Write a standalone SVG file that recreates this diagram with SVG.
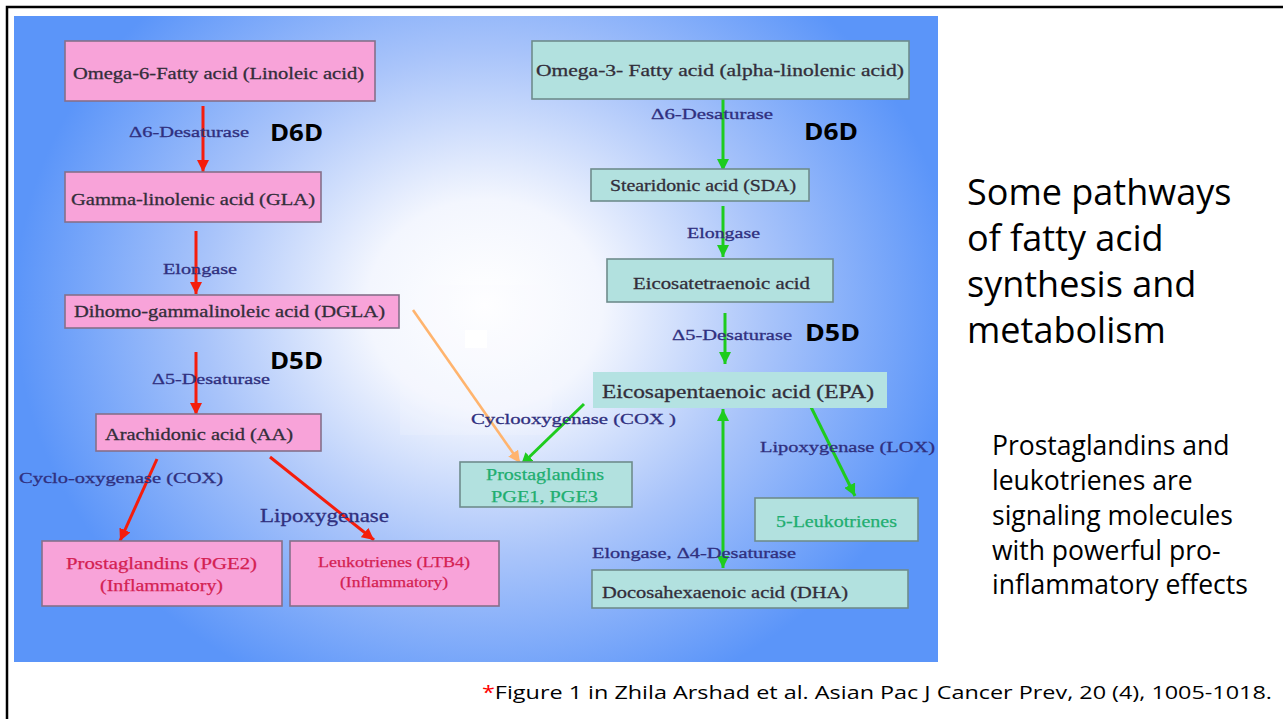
<svg xmlns="http://www.w3.org/2000/svg" width="1283" height="719" viewBox="0 0 1283 719">
<style>
.pink{fill:#f8a3d9;stroke:#85708a;stroke-width:1.6}
.teal{fill:#b2e1df;stroke:#6e8c8c;stroke-width:1.6}
.t{font-family:"Liberation Serif","Times New Roman",serif;font-size:17px;fill:#332e3a;stroke:#332e3a;stroke-width:0.3}
.enz{font-family:"Liberation Serif","Times New Roman",serif;font-size:15px;fill:#30307f;stroke:#30307f;stroke-width:0.3}
.grn{font-family:"Liberation Serif","Times New Roman",serif;font-size:16px;fill:#1fae70;stroke:#1fae70;stroke-width:0.25}
.red{font-family:"Liberation Serif","Times New Roman",serif;font-size:16px;fill:#d42152;stroke:#d42152;stroke-width:0.25}
.bold{font-family:"Open Sans","Noto Sans",sans-serif;font-weight:bold;font-size:24px;fill:#000}
.side{font-family:"Open Sans","Noto Sans",sans-serif;fill:#000}
.ar{stroke:#f51d0c;stroke-width:3;fill:none;marker-end:url(#mr)}
.ag{stroke:#1ecc1e;stroke-width:3;fill:none;marker-end:url(#mg)}
.ao{stroke:#ffb46e;stroke-width:2.6;fill:none;marker-end:url(#mo)}
</style>
<defs>
<radialGradient id="bg" gradientUnits="userSpaceOnUse" cx="0" cy="0" r="1" gradientTransform="translate(485 305) scale(470 420)">
<stop offset="0" stop-color="#ffffff"/>
<stop offset="0.25" stop-color="#f3f6fe"/>
<stop offset="0.6" stop-color="#a9c4fa"/>
<stop offset="1" stop-color="#5b95f9"/>
</radialGradient>
<marker id="mr" markerUnits="userSpaceOnUse" markerWidth="12" markerHeight="12" refX="10" refY="5" orient="auto" viewBox="0 0 10 10"><path d="M0,0 L10,5 L0,10 z" fill="#f51d0c"/></marker>
<marker id="mg" markerUnits="userSpaceOnUse" markerWidth="12" markerHeight="12" refX="10" refY="5" orient="auto-start-reverse" viewBox="0 0 10 10"><path d="M0,0 L10,5 L0,10 z" fill="#1ecc1e"/></marker>
<marker id="mo" markerUnits="userSpaceOnUse" markerWidth="12" markerHeight="12" refX="10" refY="5" orient="auto" viewBox="0 0 10 10"><path d="M0,0 L10,5 L0,10 z" fill="#ffb46e"/></marker>
</defs>
<rect width="1283" height="719" fill="#fff"/>
<path d="M7,719 V7 H1283" fill="none" stroke="#000" stroke-width="2.5"/>
<rect x="14" y="16" width="924" height="646" fill="url(#bg)"/>
<rect x="400" y="285" width="152" height="150" fill="#fafbff" opacity="0.18"/>
<rect x="465" y="330" width="22" height="18" fill="#ffffff"/>

<g id="connectors">
<line class="ar" x1="203" y1="106" x2="203" y2="172"/>
<line class="ar" x1="196" y1="231" x2="196" y2="294"/>
<line class="ar" x1="196" y1="352" x2="196" y2="415"/>
<line class="ar" x1="157" y1="459" x2="120" y2="541"/>
<line class="ar" x1="270" y1="457" x2="374" y2="540"/>
<line class="ag" x1="723" y1="99" x2="723" y2="171"/>
<line class="ag" x1="723" y1="206" x2="723" y2="257"/>
<line class="ag" x1="725" y1="313" x2="725" y2="364"/>
<line class="ag" x1="723" y1="409" x2="723" y2="568" style="marker-start:url(#mg)"/>
<line class="ao" x1="413" y1="310" x2="520" y2="463"/>
<line class="ag" x1="584" y1="404" x2="521" y2="465"/>
<line class="ag" x1="810" y1="405" x2="855" y2="496"/>
</g>

<g id="n-omega6"><rect class="pink" x="65" y="41" width="310" height="60"/><text class="t" x="73" y="79" textLength="291" lengthAdjust="spacingAndGlyphs">Omega-6-Fatty  acid (Linoleic acid)</text></g>
<g id="n-gla"><rect class="pink" x="65" y="172" width="256" height="50"/><text class="t" x="71" y="205" textLength="244" lengthAdjust="spacingAndGlyphs">Gamma-linolenic  acid (GLA)</text></g>
<g id="n-dgla"><rect class="pink" x="65" y="295" width="334" height="33"/><text class="t" x="74" y="317" textLength="311" lengthAdjust="spacingAndGlyphs">Dihomo-gammalinoleic  acid (DGLA)</text></g>
<g id="n-aa"><rect class="pink" x="96" y="414" width="225" height="37"/><text class="t" x="105" y="440" textLength="188" lengthAdjust="spacingAndGlyphs">Arachidonic  acid (AA)</text></g>
<g id="n-pge2"><rect class="pink" x="42" y="541" width="240" height="65"/><text class="red" x="66" y="569" textLength="191" lengthAdjust="spacingAndGlyphs">Prostaglandins  (PGE2)</text><text class="red" x="100" y="591" textLength="123" lengthAdjust="spacingAndGlyphs">(Inflammatory)</text></g>
<g id="n-ltb4"><rect class="pink" x="290" y="541" width="209" height="65"/><text class="red" x="318" y="567" textLength="152" lengthAdjust="spacingAndGlyphs" style="font-size:15px">Leukotrienes (LTB4)</text><text class="red" x="340" y="587" textLength="108" lengthAdjust="spacingAndGlyphs" style="font-size:15px">(Inflammatory)</text></g>

<g id="n-omega3"><rect class="teal" x="532" y="41" width="377" height="58"/><text class="t" x="536" y="76" textLength="368" lengthAdjust="spacingAndGlyphs">Omega-3- Fatty acid (alpha-linolenic  acid)</text></g>
<g id="n-sda"><rect class="teal" x="591" y="169" width="218" height="32"/><text class="t" x="610" y="191" textLength="186" lengthAdjust="spacingAndGlyphs">Stearidonic  acid (SDA)</text></g>
<g id="n-eta"><rect class="teal" x="607" y="259" width="226" height="43"/><text class="t" x="633" y="289" textLength="177" lengthAdjust="spacingAndGlyphs">Eicosatetraenoic  acid</text></g>
<g id="n-epa"><rect x="593" y="372" width="294" height="36" fill="#b4e2e2"/><text class="t" x="602" y="398" textLength="272" lengthAdjust="spacingAndGlyphs" style="font-size:19px">Eicosapentaenoic acid (EPA)</text></g>
<g id="n-pge13"><rect class="teal" x="460" y="462" width="172" height="45"/><text class="grn" x="486" y="480" textLength="118" lengthAdjust="spacingAndGlyphs">Prostaglandins</text><text class="grn" x="491" y="502" textLength="107" lengthAdjust="spacingAndGlyphs">PGE1, PGE3</text></g>
<g id="n-5lt"><rect class="teal" x="755" y="498" width="163" height="43"/><text class="grn" x="776" y="527" textLength="121" lengthAdjust="spacingAndGlyphs">5-Leukotrienes</text></g>
<g id="n-dha"><rect class="teal" x="592" y="570" width="316" height="38"/><text class="t" x="602" y="598" textLength="246" lengthAdjust="spacingAndGlyphs">Docosahexaenoic  acid (DHA)</text></g>

<g id="enzyme-labels">
<text class="enz" x="129" y="137" textLength="120" lengthAdjust="spacingAndGlyphs">Δ6-Desaturase</text>
<text class="enz" x="163" y="274" textLength="74" lengthAdjust="spacingAndGlyphs">Elongase</text>
<text class="enz" x="152" y="384" textLength="118" lengthAdjust="spacingAndGlyphs">Δ5-Desaturase</text>
<text class="enz" x="19" y="483" textLength="204" lengthAdjust="spacingAndGlyphs">Cyclo-oxygenase  (COX)</text>
<text class="enz" x="260" y="522" textLength="129" lengthAdjust="spacingAndGlyphs" style="font-size:19px">Lipoxygenase</text>
<text class="enz" x="651" y="119" textLength="122" lengthAdjust="spacingAndGlyphs">Δ6-Desaturase</text>
<text class="enz" x="687" y="238" textLength="73" lengthAdjust="spacingAndGlyphs">Elongase</text>
<text class="enz" x="672" y="340" textLength="120" lengthAdjust="spacingAndGlyphs">Δ5-Desaturase</text>
<text class="enz" x="471" y="424" textLength="205" lengthAdjust="spacingAndGlyphs">Cyclooxygenase  (COX )</text>
<text class="enz" x="760" y="452" textLength="175" lengthAdjust="spacingAndGlyphs">Lipoxygenase  (LOX)</text>
<text class="enz" x="592" y="558" textLength="204" lengthAdjust="spacingAndGlyphs">Elongase, Δ4-Desaturase</text>
</g>

<g id="abbrev-labels">
<text class="bold" x="270" y="141" textLength="53" lengthAdjust="spacingAndGlyphs">D6D</text>
<text class="bold" x="804" y="140" textLength="54" lengthAdjust="spacingAndGlyphs">D6D</text>
<text class="bold" x="270" y="369" textLength="53" lengthAdjust="spacingAndGlyphs">D5D</text>
<text class="bold" x="805" y="341" textLength="55" lengthAdjust="spacingAndGlyphs">D5D</text>
</g>

<g id="title">
<text class="side" x="967" y="205" style="font-size:36px">Some pathways</text>
<text class="side" x="967" y="251" style="font-size:36px">of fatty acid</text>
<text class="side" x="967" y="297" style="font-size:36px">synthesis and</text>
<text class="side" x="967" y="343" style="font-size:36px">metabolism</text>
</g>
<g id="note">
<text class="side" x="992" y="455" style="font-size:26.5px">Prostaglandins and</text>
<text class="side" x="992" y="490" style="font-size:26.5px">leukotrienes are</text>
<text class="side" x="992" y="525" style="font-size:26.5px">signaling molecules</text>
<text class="side" x="992" y="560" style="font-size:26.5px">with powerful pro-</text>
<text class="side" x="992" y="594" style="font-size:26.5px">inflammatory effects</text>
</g>
<g id="citation">
<text class="side" x="482" y="699" style="font-size:19px" textLength="790" lengthAdjust="spacingAndGlyphs"><tspan fill="#ff0000">*</tspan>Figure 1 in Zhila Arshad et al. Asian Pac J Cancer Prev, 20 (4), 1005-1018.</text>
</g>
</svg>
